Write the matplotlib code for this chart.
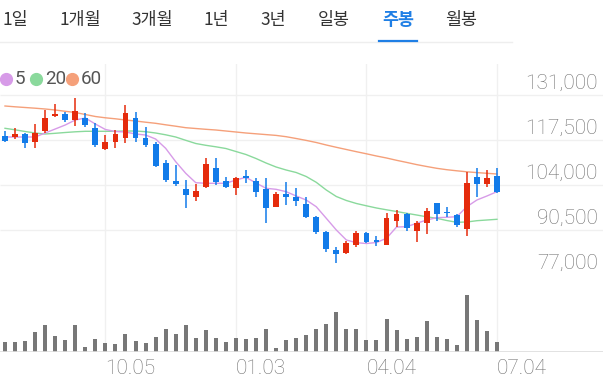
import matplotlib.pyplot as plt
from matplotlib.lines import Line2D

W, H = 615, 383

# weekly candles (price in won)
opens = [118700, 118500, 119200, 116800, 120300, 124800, 125200, 123500, 124100, 121000,
         114800, 116800, 118000, 124000, 118200, 116200, 110500, 105200, 102700, 100300,
         103300, 109200, 105200, 103000, 106700, 105300, 102700, 97300, 101200, 100300,
         98300, 94500, 90000, 84500, 83500, 86000, 89500, 87500, 86000, 93200,
         95300, 90200, 92700, 98500, 96000, 95000, 90700, 106300, 104300, 106700]
highs = [120100, 121000, 119700, 122200, 126500, 128200, 126000, 130000, 125500, 122500,
         119000, 120500, 128000, 126000, 121500, 117000, 111500, 110000, 105500, 104300,
         112000, 112000, 106500, 106500, 108500, 106000, 106000, 102000, 105000, 103000,
         100300, 94700, 90200, 85500, 87200, 90300, 90000, 88800, 95500, 96500,
         95700, 93300, 97000, 98500, 97500, 95300, 108000, 109000, 108500, 109000]
lows = [117000, 117700, 115000, 115200, 119700, 124500, 123000, 121700, 121500, 115500,
        114500, 115000, 116500, 117000, 115500, 109500, 105000, 103700, 97000, 99300,
        103000, 104000, 103000, 101000, 104700, 100500, 92500, 97300, 98000, 97700,
        94000, 89300, 84000, 80500, 83200, 85300, 86700, 85800, 86000, 91500,
        90300, 86800, 89300, 93200, 94300, 91300, 88800, 100500, 103500, 101700]
closes = [117300, 119300, 116500, 119700, 124200, 125300, 123500, 126200, 122000, 116000,
          117000, 119200, 125700, 118000, 116000, 109800, 105500, 104300, 100900, 102300,
          110300, 105000, 103300, 106200, 106000, 102000, 97200, 101200, 100300, 99300,
          94300, 90000, 84700, 83300, 86700, 89500, 87000, 86800, 94200, 95200,
          91000, 92500, 96300, 95300, 95500, 92000, 104500, 104300, 106200, 102000]
volume = [10, 10, 11, 20, 27, 16, 12, 27, 5, 13, 9, 8, 18, 11, 9, 15, 23, 18, 27, 14,
          22, 14, 10, 14, 13, 14, 23, 4, 12, 14, 17, 23, 28, 40, 23, 23, 12, 12, 33, 22,
          13, 15, 31, 15, 13, 7, 57, 32, 21, 10]

ma5 = [118400, 118400, 118400, 118400, 119600, 120800, 122000, 123500, 124100, 122300,
       120650, 120050, 119900, 119300, 119000, 117800, 115010, 111000, 107510, 104690,
       104510, 104510, 104510, 105500, 106310, 104600, 103010, 102710, 102000, 100700,
       99500, 97490, 94010, 90500, 87500, 86690, 86450, 86750, 88010, 91400,
       91490, 92510, 93500, 94190, 94310, 94490, 97490, 99500, 100700, 102000]
ma20 = [121010, 120560, 120050, 119600, 119300, 119510, 119750, 119960, 120110, 120110,
        120110, 120110, 120200, 120200, 119990, 119600, 119060, 118400, 117410, 116450,
        115910, 115460, 114950, 114050, 113150, 111950, 110600, 109400, 108500, 107750,
        106550, 104810, 102500, 100550, 99350, 98450, 97760, 97100, 96560, 96050,
        95510, 95000, 94460, 94010, 93350, 92810, 92900, 93290, 93500, 93710]
ma60 = [127700, 127460, 127250, 127040, 126800, 126500, 126110, 125750, 125150, 124550,
        124160, 123860, 123500, 123200, 122840, 122510, 122060, 121640, 121190, 120950,
        120710, 120500, 120200, 119900, 119600, 119360, 119120, 118880, 118490, 117950,
        117380, 116750, 116000, 115310, 114650, 113990, 113360, 112700, 112100, 111410,
        110780, 110120, 109550, 109010, 108590, 108260, 107960, 107720, 107510, 107300]

tabs = ["1일", "1개월", "3개월", "1년", "3년", "일봉", "주봉", "월봉"]
selected_tab = "주봉"
date_idx = [10, 23, 36, 49]
date_labels = ["10.05", "01.03", "04.04", "07.04"]
price_ticks = [131000, 117500, 104000, 90500, 77000]
ma_labels = ["5", "20", "60"]

UP, DOWN = "#e52b0c", "#127be9"
MA_COLORS = ["#d79be8", "#8ad99c", "#f5a07a"]
GRID = "#f0f0f0"
TXT = "#707070"
plt.rcParams["font.family"] = ["Roboto", "DejaVu Sans"]

fig = plt.figure(figsize=(W / 100, H / 100), dpi=100)

# tab bar
tab_x = [15, 80, 152, 216, 273, 334, 398, 461]
for t, x in zip(tabs, tab_x):
    sel = t == selected_tab
    fig.text(x / W, 1 - 20 / H, t, ha="center", va="center", fontsize=12.5,
             color="#1f7fe5" if sel else "#333333", fontweight="bold" if sel else "normal",
             family=["Noto Sans CJK KR", "DejaVu Sans"])
fig.add_artist(Line2D([0, 512 / W], [1 - 41.5 / H] * 2, color="#eeeeee", lw=1))
fig.add_artist(Line2D([379 / W, 417 / W], [1 - 41 / H] * 2, color="#1f7fe5", lw=1.6))

# moving-average legend (dot + number)
for c, l, dx in zip(MA_COLORS, ma_labels, [6, 36, 72]):
    fig.add_artist(Line2D([dx / W], [1 - 79 / H], marker="o", ms=8.5, color=c, ls=""))
    fig.text((dx + 9) / W, 1 - 79 / H, l, ha="left", va="center", fontsize=13.5,
             color="#555555")

xlim = (-5 / 10.04, (603 - 5) / 10.04)
ax = fig.add_axes([0, 1 - 280 / H, 603 / W, 216 / H])
ax2 = fig.add_axes([0, 1 - 352 / H, 603 / W, 72 / H])
for a in (ax, ax2):
    a.set_xlim(*xlim)
    a.axis("off")
    for d in date_idx:
        a.axvline(d, color=GRID, lw=1, zorder=0)
ax.set_ylim(75500, 140300)
ax2.set_ylim(0, 72)

ax.hlines(price_ticks[:-1], xlim[0], xlim[1], color=GRID, lw=1, zorder=0)
for v in price_ticks:
    ax.annotate(f"{v:,}", xy=(598 / 603, v), xycoords=ax.get_yaxis_transform(),
                xytext=(0, 4.7), textcoords="offset points", ha="right", va="baseline",
                fontsize=15, color=TXT, fontweight="light")

x = list(range(len(opens)))
for ma, c in zip([ma60, ma20, ma5], MA_COLORS[::-1]):
    ax.plot(x, ma, color=c, lw=1, zorder=2)

for i in x:
    c = UP if closes[i] >= opens[i] else DOWN
    ax.vlines(i, lows[i], highs[i], color=c, lw=1.1, zorder=3)
    lo, hi = min(opens[i], closes[i]), max(opens[i], closes[i])
    ax.bar(i, max(hi - lo, 300), bottom=lo, width=0.58, color=c, zorder=4)

ax2.bar(x, volume, width=0.4, color="#777777")
ax2.axhline(0, color="#dddddd", lw=1.2)
for d, l in zip(date_idx, date_labels):
    ax2.annotate(l, xy=(d, 0), xytext=(0, -16.2), textcoords="offset points",
                 ha="left", va="baseline", fontsize=15, color=TXT, fontweight="light")

fig.savefig("out.png", dpi=100)
